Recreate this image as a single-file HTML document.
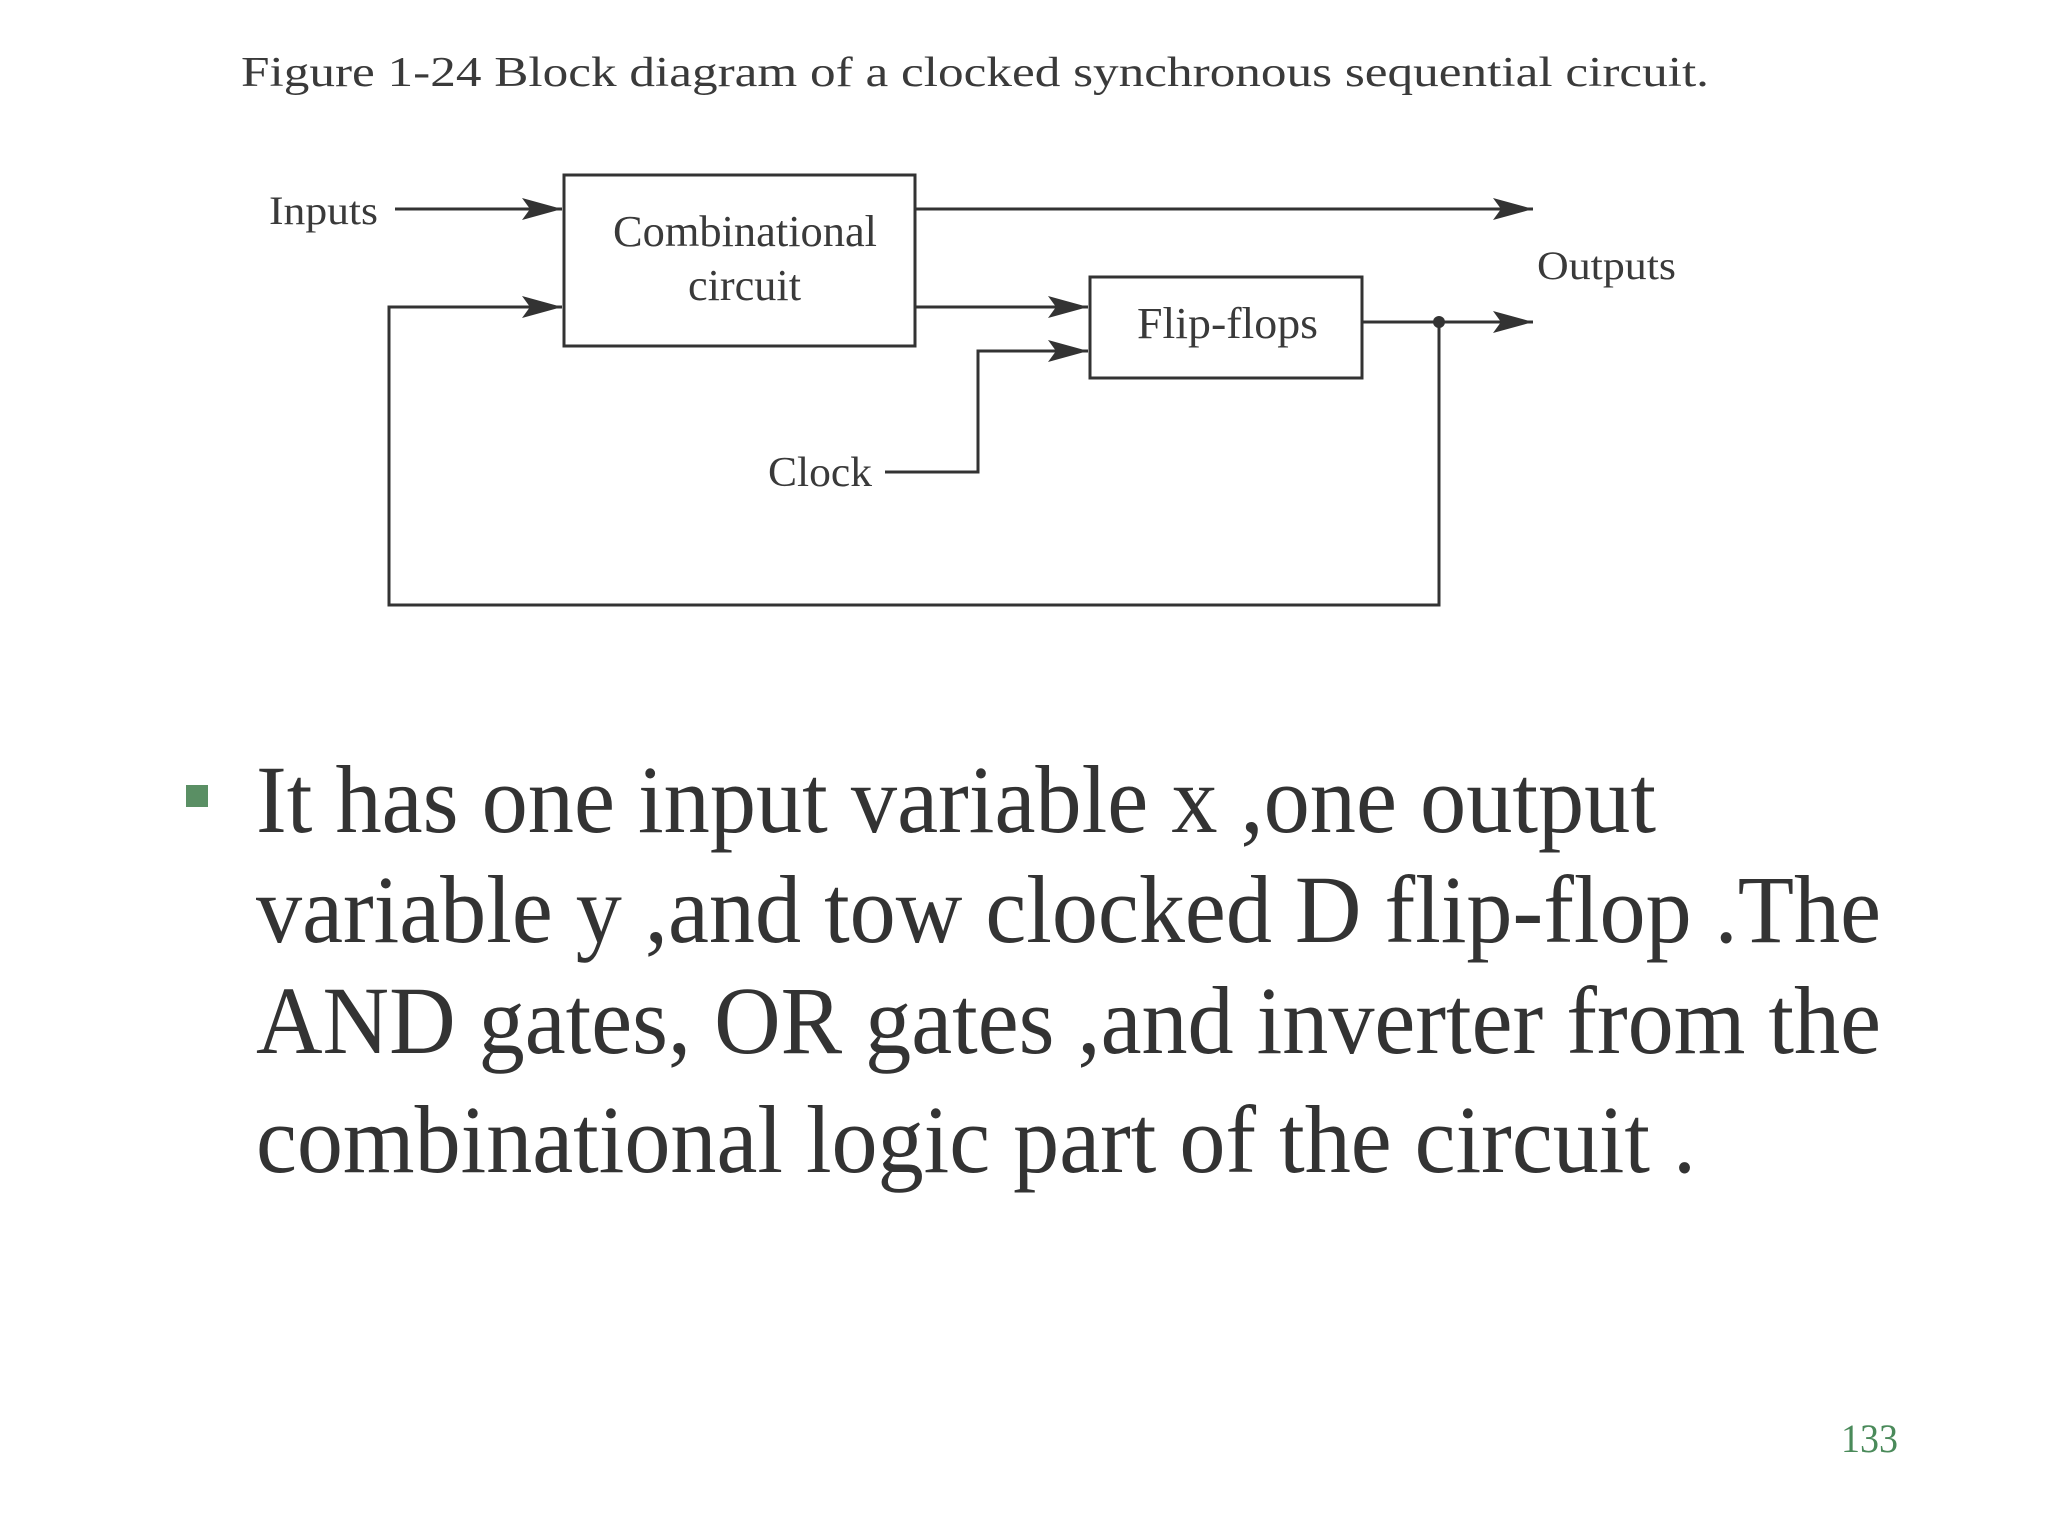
<!DOCTYPE html>
<html><head><meta charset="utf-8"><style>
html,body{margin:0;padding:0;background:#fff;}
svg{display:block;}
</style></head><body>
<svg width="2048" height="1536" viewBox="0 0 2048 1536" xmlns="http://www.w3.org/2000/svg">
<defs>
<marker id="ah" markerWidth="40" markerHeight="22" refX="40" refY="11" orient="auto" markerUnits="userSpaceOnUse">
<path d="M0,0 L40,11 L0,22 L8,11 Z" fill="#333"/>
</marker>
</defs>
<g font-family="Liberation Serif, serif" fill="#3a3a3a">
<text x="241" y="86" font-size="42" textLength="1468" lengthAdjust="spacingAndGlyphs">Figure 1-24   Block diagram of a clocked synchronous sequential circuit.</text>
<text x="269" y="224" font-size="40" textLength="109" lengthAdjust="spacingAndGlyphs">Inputs</text>
<text x="613" y="246" font-size="44" textLength="264" lengthAdjust="spacingAndGlyphs">Combinational</text>
<text x="688" y="300" font-size="44" textLength="113" lengthAdjust="spacingAndGlyphs">circuit</text>
<text x="1137" y="338" font-size="44" textLength="181" lengthAdjust="spacingAndGlyphs">Flip-flops</text>
<text x="1537" y="279" font-size="40" textLength="139" lengthAdjust="spacingAndGlyphs">Outputs</text>
<text x="768" y="486" font-size="42" textLength="104" lengthAdjust="spacingAndGlyphs">Clock</text>
</g>
<g stroke="#333" stroke-width="3" fill="none">
<rect x="564" y="175" width="351" height="171"/>
<rect x="1090" y="277" width="272" height="101"/>
<line x1="395" y1="209" x2="562" y2="209" marker-end="url(#ah)"/>
<line x1="915" y1="209" x2="1533" y2="209" marker-end="url(#ah)"/>
<line x1="915" y1="307" x2="1088" y2="307" marker-end="url(#ah)"/>
<line x1="1362" y1="322" x2="1533" y2="322" marker-end="url(#ah)"/>
<polyline points="885,472 978,472 978,351 1088,351" marker-end="url(#ah)"/>
<polyline points="1439,322 1439,605 389,605 389,307 562,307" marker-end="url(#ah)"/>
</g>
<circle cx="1439" cy="322" r="6" fill="#333"/>
<rect x="186" y="785" width="22" height="22" fill="#5a8f64"/>
<g font-family="Liberation Serif, serif" fill="#333" font-size="96">
<text x="256" y="832" textLength="1400" lengthAdjust="spacingAndGlyphs">It has one input variable x ,one output</text>
<text x="256" y="942" textLength="1625" lengthAdjust="spacingAndGlyphs">variable y ,and tow clocked D flip-flop .The</text>
<text x="256" y="1053" textLength="1625" lengthAdjust="spacingAndGlyphs">AND gates, OR gates ,and inverter from the</text>
<text x="256" y="1172" textLength="1440" lengthAdjust="spacingAndGlyphs">combinational logic part of the circuit .</text>
</g>
<text x="1841" y="1452" font-family="Liberation Serif, serif" font-size="40" fill="#4a8a5a" textLength="57" lengthAdjust="spacingAndGlyphs">133</text>
</svg>
</body></html>
